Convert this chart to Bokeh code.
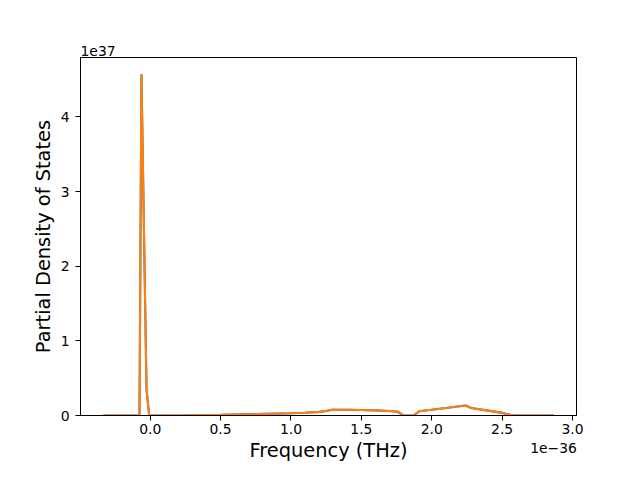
from bokeh.plotting import figure
from bokeh.models import Range1d, FixedTicker, Title, LinearAxis
from bokeh.embed import file_html
from bokeh.resources import INLINE

# Frequency in units of 1e-36 THz, DOS in units of 1e37
freq = [-0.335, -0.20, -0.076, -0.062, -0.026, -0.007, 0.0, 0.25, 0.5, 0.75,
        1.0, 1.1, 1.2, 1.25, 1.29, 1.4, 1.5, 1.6, 1.7, 1.757, 1.80, 1.87,
        1.91, 2.0, 2.1, 2.24, 2.28, 2.4, 2.5, 2.58, 2.7, 2.868]
dos_a = [0.0, 0.0, 0.0, 4.57, 0.35, 0.0, 0.0, 0.004, 0.01, 0.018,
         0.03, 0.037, 0.048, 0.06, 0.078, 0.077, 0.074, 0.068, 0.06, 0.05, 0.0, 0.0,
         0.056, 0.077, 0.1, 0.134, 0.10, 0.065, 0.035, 0.0, 0.0, 0.0]
dos_b = list(dos_a)

x_ticks = [0.0, 0.5, 1.0, 1.5, 2.0, 2.5, 3.0]
y_ticks = [0, 1, 2, 3, 4]
x_offset_pos = [2.865]
x_offset_text = "1e\u221236"
y_offset_text = "1e37"

p = figure(width=624, height=464, output_backend="svg", toolbar_location=None,
           x_range=Range1d(-0.495, 3.028), y_range=Range1d(0, 4.795),
           min_border_left=80, min_border_right=48, min_border_top=57, min_border_bottom=20)

p.line(freq, dos_a, color="#1f77b4", line_width=2.1)
p.line(freq, dos_b, color="#ff7f0e", line_width=2.1)

p.xgrid.visible = False
p.ygrid.visible = False
p.background_fill_color = "white"
p.border_fill_color = "white"
p.outline_line_color = "black"
p.outline_line_alpha = 1.0
p.outline_line_width = 1

p.xaxis.ticker = FixedTicker(ticks=x_ticks)
p.yaxis.ticker = FixedTicker(ticks=y_ticks)
p.xaxis.major_label_overrides = {t: f"{t:.1f}" for t in x_ticks}

for ax in (p.xaxis, p.yaxis):
    ax.axis_line_color = "black"
    ax.major_tick_line_color = "black"
    ax.major_tick_in = 0
    ax.major_tick_out = 5
    ax.minor_tick_line_color = None
    ax.major_label_text_font = "DejaVu Sans"
    ax.major_label_text_font_size = "13.9px"
    ax.major_label_text_color = "black"
    ax.axis_label_text_font = "DejaVu Sans"
    ax.axis_label_text_font_size = "19.4px"
    ax.axis_label_text_font_style = "normal"
    ax.axis_label_text_color = "black"

p.xaxis.axis_label = "Frequency (THz)"
p.yaxis.axis_label = "Partial Density of States"
p.xaxis.major_label_standoff = 3
p.xaxis.axis_label_standoff = 2
p.yaxis.major_label_standoff = 6
p.yaxis.axis_label_standoff = 3

# offset text for y (top-left)
t = Title(text=y_offset_text, align="left", offset=0, standoff=4,
          text_font="DejaVu Sans", text_font_size="13.9px", text_font_style="normal",
          text_color="black")
p.add_layout(t, "above")

# offset text for x (bottom-right), as a tick-less extra axis
ax2 = LinearAxis(ticker=FixedTicker(ticks=x_offset_pos),
                 major_label_overrides={x_offset_pos[0]: x_offset_text})
ax2.axis_line_color = None
ax2.major_tick_line_color = None
ax2.minor_tick_line_color = None
ax2.major_tick_in = 0
ax2.major_tick_out = 0
ax2.major_label_standoff = -22
ax2.major_label_text_font = "DejaVu Sans"
ax2.major_label_text_font_size = "13.9px"
ax2.major_label_text_color = "black"
p.add_layout(ax2, "below")

open("out.html", "w").write(file_html(p, INLINE))
